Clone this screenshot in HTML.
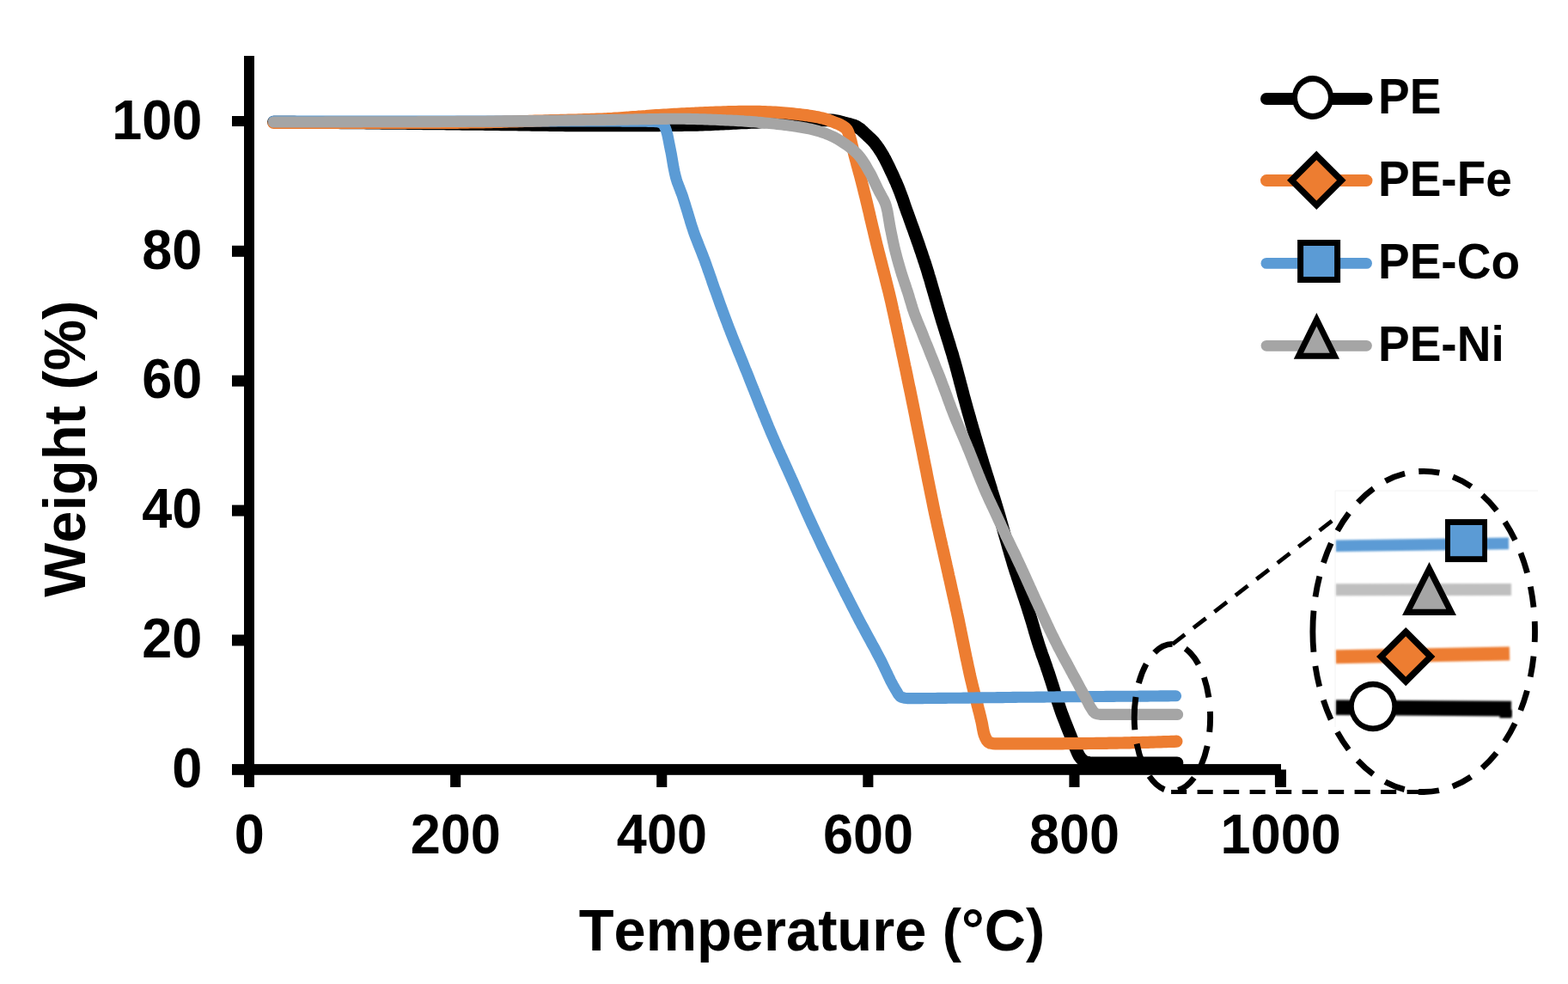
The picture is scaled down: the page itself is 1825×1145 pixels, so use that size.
<!DOCTYPE html>
<html lang="en">
<head>
<meta charset="utf-8">
<title>TGA curves: PE, PE-Fe, PE-Co, PE-Ni</title>
<style>
html,body{margin:0;padding:0;background:#fff;}
body{width:1825px;height:1145px;overflow:hidden;font-family:"Liberation Sans", "DejaVu Sans", sans-serif;}
svg{display:block;position:absolute;left:0;top:0;}
</style>
</head>
<body>
<svg width="1825" height="1145" viewBox="0 0 1825 1145" role="img" aria-label="TGA weight versus temperature for PE, PE-Fe, PE-Co and PE-Ni">
<rect x="0" y="0" width="1825" height="1145" fill="#ffffff"/>
<g fill="none" stroke-linecap="round" stroke-linejoin="round">
<path d="M318.5,142.0 L321.5,142.0 L324.5,142.1 L327.5,142.1 L330.5,142.1 L333.5,142.1 L336.5,142.2 L339.5,142.2 L342.5,142.2 L345.6,142.3 L348.6,142.3 L351.6,142.3 L354.6,142.3 L357.6,142.4 L360.6,142.4 L363.6,142.4 L366.6,142.5 L369.6,142.5 L372.6,142.5 L375.6,142.6 L378.6,142.6 L381.6,142.6 L384.6,142.6 L387.6,142.7 L390.6,142.7 L393.6,142.7 L396.7,142.8 L399.7,142.8 L402.7,142.8 L405.7,142.9 L408.7,142.9 L411.7,142.9 L414.7,142.9 L417.7,143.0 L420.7,143.0 L423.7,143.0 L426.7,143.1 L429.7,143.1 L432.7,143.1 L435.7,143.2 L438.7,143.2 L441.7,143.2 L444.7,143.3 L447.8,143.3 L450.8,143.3 L453.8,143.4 L456.8,143.4 L459.8,143.4 L462.8,143.4 L465.8,143.5 L468.8,143.5 L471.8,143.5 L474.8,143.6 L477.8,143.6 L480.8,143.6 L483.8,143.7 L486.8,143.7 L489.8,143.7 L492.8,143.8 L495.8,143.8 L498.9,143.8 L501.9,143.9 L504.9,143.9 L507.9,143.9 L510.9,144.0 L513.9,144.0 L516.9,144.0 L519.9,144.1 L522.9,144.1 L525.9,144.1 L528.9,144.2 L531.9,144.2 L534.9,144.2 L537.9,144.3 L540.9,144.3 L543.9,144.3 L547.0,144.4 L550.0,144.4 L553.0,144.4 L556.0,144.5 L559.0,144.5 L562.0,144.5 L565.0,144.6 L568.0,144.6 L571.0,144.6 L574.0,144.7 L577.0,144.7 L580.0,144.7 L583.0,144.8 L586.0,144.8 L589.0,144.9 L592.0,144.9 L595.0,144.9 L598.1,145.0 L601.1,145.0 L604.1,145.1 L607.1,145.1 L610.1,145.2 L613.1,145.2 L616.1,145.2 L619.1,145.3 L622.1,145.3 L625.1,145.4 L628.1,145.4 L631.1,145.5 L634.1,145.5 L637.1,145.5 L640.1,145.6 L643.1,145.6 L646.1,145.6 L649.2,145.7 L652.2,145.7 L655.2,145.7 L658.2,145.8 L661.2,145.8 L664.2,145.8 L667.2,145.9 L670.2,145.9 L673.2,145.9 L676.2,145.9 L679.2,145.9 L682.2,146.0 L685.2,146.0 L688.2,146.0 L691.2,146.0 L694.2,146.0 L697.2,146.0 L700.3,146.0 L703.3,146.0 L706.3,146.0 L709.3,146.0 L712.3,146.0 L715.3,146.0 L718.3,146.0 L721.3,146.0 L724.3,146.0 L727.3,146.0 L730.3,145.9 L733.3,145.9 L736.3,145.9 L739.3,145.9 L742.3,145.9 L745.3,145.9 L748.4,145.9 L751.4,145.9 L754.4,145.8 L757.4,145.8 L760.4,145.8 L763.4,145.8 L766.4,145.8 L769.4,145.7 L772.4,145.7 L775.4,145.7 L778.4,145.7 L781.4,145.7 L784.4,145.6 L787.4,145.6 L790.4,145.6 L793.4,145.6 L796.4,145.5 L799.5,145.5 L802.5,145.5 L805.5,145.4 L808.5,145.4 L811.5,145.3 L814.5,145.2 L817.5,145.1 L820.5,145.0 L823.5,144.9 L826.5,144.8 L829.5,144.6 L832.5,144.5 L835.5,144.4 L838.5,144.2 L841.5,144.1 L844.5,143.9 L847.5,143.8 L850.5,143.6 L853.5,143.5 L856.5,143.3 L859.5,143.2 L862.5,143.0 L865.5,142.9 L868.5,142.8 L871.5,142.6 L874.5,142.5 L877.5,142.4 L880.6,142.3 L883.6,142.1 L886.6,142.0 L889.6,141.9 L892.6,141.7 L895.6,141.6 L898.6,141.4 L901.6,141.3 L904.6,141.2 L907.6,141.0 L910.6,140.9 L913.6,140.8 L916.6,140.6 L919.6,140.5 L922.6,140.4 L925.6,140.3 L928.6,140.2 L931.6,140.2 L934.6,140.1 L937.6,140.0 L940.6,140.0 L943.6,140.0 L946.7,139.9 L949.7,139.9 L952.7,139.9 L955.7,139.8 L958.7,139.8 L961.7,139.8 L964.7,139.8 L967.7,139.8 L970.6,140.1 L973.6,140.7 L976.6,141.3 L979.5,142.1 L982.4,142.9 L985.4,143.6 L988.3,144.3 L991.2,145.2 L994.0,146.1 L996.8,147.3 L999.4,148.9 L1001.8,150.6 L1004.0,152.6 L1006.2,154.7 L1008.4,156.8 L1010.6,158.9 L1012.8,160.9 L1015.0,163.0 L1017.0,165.1 L1018.9,167.5 L1020.7,169.9 L1022.5,172.3 L1024.1,174.9 L1025.7,177.4 L1027.3,180.0 L1028.7,182.6 L1030.2,185.2 L1031.5,187.9 L1032.9,190.6 L1034.2,193.3 L1035.5,196.0 L1036.8,198.8 L1038.1,201.5 L1039.4,204.2 L1040.6,206.9 L1041.8,209.7 L1043.1,212.4 L1044.2,215.2 L1045.4,218.0 L1046.5,220.8 L1047.6,223.6 L1048.6,226.4 L1049.7,229.2 L1050.7,232.0 L1051.7,234.9 L1052.6,237.7 L1053.6,240.6 L1054.6,243.4 L1055.6,246.2 L1056.7,249.1 L1057.7,251.9 L1058.7,254.7 L1059.7,257.5 L1060.7,260.4 L1061.7,263.2 L1062.8,266.0 L1063.8,268.9 L1064.8,271.7 L1065.8,274.5 L1066.8,277.4 L1067.8,280.2 L1068.8,283.0 L1069.8,285.9 L1070.7,288.7 L1071.7,291.6 L1072.7,294.4 L1073.6,297.3 L1074.6,300.1 L1075.5,303.0 L1076.5,305.8 L1077.4,308.7 L1078.3,311.5 L1079.2,314.4 L1080.1,317.3 L1080.9,320.2 L1081.8,323.0 L1082.7,325.9 L1083.5,328.8 L1084.3,331.7 L1085.2,334.6 L1086.0,337.5 L1086.9,340.4 L1087.7,343.2 L1088.5,346.1 L1089.4,349.0 L1090.2,351.9 L1091.0,354.8 L1091.9,357.7 L1092.7,360.6 L1093.6,363.5 L1094.4,366.3 L1095.3,369.2 L1096.1,372.1 L1097.0,375.0 L1097.9,377.8 L1098.8,380.7 L1099.7,383.6 L1100.6,386.5 L1101.5,389.3 L1102.4,392.2 L1103.3,395.1 L1104.2,397.9 L1105.1,400.8 L1105.9,403.7 L1106.8,406.6 L1107.7,409.4 L1108.6,412.3 L1109.4,415.2 L1110.2,418.1 L1111.1,421.0 L1111.9,423.9 L1112.7,426.8 L1113.5,429.7 L1114.3,432.6 L1115.0,435.5 L1115.8,438.4 L1116.6,441.3 L1117.3,444.2 L1118.1,447.1 L1118.9,450.0 L1119.6,452.9 L1120.4,455.8 L1121.1,458.7 L1121.9,461.6 L1122.7,464.5 L1123.5,467.4 L1124.3,470.3 L1125.1,473.2 L1125.9,476.1 L1126.7,479.0 L1127.5,481.9 L1128.4,484.8 L1129.2,487.7 L1130.0,490.6 L1130.8,493.5 L1131.7,496.4 L1132.5,499.3 L1133.4,502.1 L1134.2,505.0 L1135.0,507.9 L1135.9,510.8 L1136.7,513.7 L1137.6,516.6 L1138.4,519.4 L1139.3,522.3 L1140.2,525.2 L1141.0,528.1 L1141.9,531.0 L1142.8,533.8 L1143.6,536.7 L1144.5,539.6 L1145.4,542.5 L1146.3,545.3 L1147.2,548.2 L1148.1,551.1 L1149.0,553.9 L1149.9,556.8 L1150.8,559.7 L1151.7,562.5 L1152.6,565.4 L1153.5,568.3 L1154.3,571.2 L1155.2,574.0 L1156.1,576.9 L1157.0,579.8 L1157.9,582.7 L1158.8,585.5 L1159.6,588.4 L1160.5,591.3 L1161.4,594.2 L1162.2,597.0 L1163.1,599.9 L1163.9,602.8 L1164.7,605.7 L1165.6,608.6 L1166.4,611.5 L1167.2,614.4 L1168.0,617.3 L1168.8,620.2 L1169.6,623.1 L1170.5,626.0 L1171.3,628.9 L1172.1,631.7 L1172.9,634.6 L1173.7,637.5 L1174.6,640.4 L1175.4,643.3 L1176.3,646.2 L1177.1,649.1 L1178.0,651.9 L1178.8,654.8 L1179.7,657.7 L1180.6,660.6 L1181.5,663.4 L1182.4,666.3 L1183.4,669.1 L1184.3,672.0 L1185.3,674.9 L1186.2,677.7 L1187.2,680.6 L1188.1,683.4 L1189.1,686.3 L1190.0,689.1 L1191.0,692.0 L1191.9,694.8 L1192.9,697.7 L1193.8,700.5 L1194.8,703.4 L1195.7,706.2 L1196.6,709.1 L1197.5,712.0 L1198.4,714.8 L1199.3,717.7 L1200.2,720.6 L1201.1,723.5 L1201.9,726.3 L1202.8,729.2 L1203.6,732.1 L1204.4,735.0 L1205.3,737.9 L1206.1,740.8 L1207.0,743.6 L1207.9,746.5 L1208.8,749.4 L1209.7,752.2 L1210.7,755.1 L1211.7,757.9 L1212.6,760.8 L1213.6,763.6 L1214.7,766.4 L1215.7,769.3 L1216.7,772.1 L1217.7,774.9 L1218.6,777.8 L1219.6,780.6 L1220.6,783.5 L1221.5,786.3 L1222.4,789.2 L1223.4,792.1 L1224.3,794.9 L1225.2,797.8 L1226.1,800.7 L1227.0,803.5 L1227.9,806.4 L1228.8,809.3 L1229.7,812.1 L1230.7,815.0 L1231.6,817.8 L1232.6,820.7 L1233.5,823.5 L1234.5,826.4 L1235.5,829.2 L1236.5,832.0 L1237.6,834.8 L1238.7,837.6 L1239.8,840.4 L1240.9,843.2 L1242.0,846.0 L1243.1,848.8 L1244.2,851.6 L1245.4,854.4 L1246.5,857.2 L1247.5,860.0 L1248.6,862.8 L1249.7,865.6 L1250.9,868.4 L1252.1,871.1 L1253.3,873.9 L1254.5,876.7 L1255.9,879.4 L1257.6,881.8 L1259.7,884.2 L1262.1,886.1 L1264.7,886.9 L1267.7,887.5 L1270.8,887.8 L1273.8,887.8 L1276.8,887.8 L1279.8,887.8 L1282.8,887.8 L1285.7,887.8 L1288.7,887.8 L1291.7,887.8 L1294.7,887.8 L1297.7,887.8 L1300.7,887.8 L1303.7,887.8 L1306.7,887.8 L1309.7,887.8 L1312.7,887.8 L1315.7,887.8 L1318.7,887.8 L1321.7,887.8 L1324.7,887.8 L1327.7,887.8 L1330.7,887.8 L1333.7,887.8 L1336.7,887.8 L1339.8,887.8 L1342.8,887.8 L1345.8,887.8 L1348.8,887.8 L1351.8,887.8 L1354.9,887.8 L1357.9,887.8 L1360.9,887.8 L1363.9,887.8 L1367.0,887.8 L1370.0,887.8" stroke="#000000" stroke-width="14.7"/>
<path d="M318.5,143.0 L321.5,143.0 L324.5,143.0 L327.5,143.0 L330.5,143.0 L333.6,143.0 L336.6,143.0 L339.6,143.0 L342.6,143.0 L345.6,143.0 L348.6,143.0 L351.6,143.0 L354.6,143.0 L357.6,143.0 L360.6,143.0 L363.7,143.0 L366.7,143.0 L369.7,143.0 L372.7,143.0 L375.7,143.0 L378.7,143.0 L381.7,143.0 L384.7,143.0 L387.7,143.0 L390.8,143.0 L393.8,143.0 L396.8,143.0 L399.8,143.0 L402.8,143.0 L405.8,143.0 L408.8,143.0 L411.8,143.0 L414.8,143.0 L417.8,143.0 L420.9,143.0 L423.9,143.0 L426.9,143.0 L429.9,143.0 L432.9,143.0 L435.9,143.0 L438.9,143.0 L441.9,143.0 L444.9,143.0 L447.9,143.0 L451.0,143.0 L454.0,143.0 L457.0,143.0 L460.0,143.0 L463.0,143.0 L466.0,143.0 L469.0,143.0 L472.0,143.0 L475.0,143.0 L478.0,143.0 L481.1,143.0 L484.1,143.0 L487.1,143.0 L490.1,143.0 L493.1,143.0 L496.1,143.0 L499.1,143.0 L502.1,143.0 L505.1,143.0 L508.1,143.0 L511.2,143.0 L514.2,143.0 L517.2,142.9 L520.2,142.9 L523.2,142.9 L526.2,142.9 L529.2,142.8 L532.2,142.8 L535.2,142.7 L538.2,142.7 L541.3,142.6 L544.3,142.6 L547.3,142.5 L550.3,142.5 L553.3,142.4 L556.3,142.4 L559.3,142.3 L562.3,142.3 L565.3,142.2 L568.3,142.1 L571.4,142.1 L574.4,142.0 L577.4,141.9 L580.4,141.8 L583.4,141.8 L586.4,141.7 L589.4,141.6 L592.4,141.5 L595.4,141.5 L598.4,141.4 L601.4,141.3 L604.5,141.2 L607.5,141.1 L610.5,141.0 L613.5,141.0 L616.5,140.9 L619.5,140.8 L622.5,140.7 L625.5,140.6 L628.5,140.6 L631.5,140.5 L634.6,140.4 L637.6,140.3 L640.6,140.2 L643.6,140.2 L646.6,140.1 L649.6,140.0 L652.6,139.9 L655.6,139.9 L658.6,139.8 L661.6,139.7 L664.6,139.6 L667.7,139.6 L670.7,139.5 L673.7,139.4 L676.7,139.3 L679.7,139.2 L682.7,139.1 L685.7,139.0 L688.7,138.9 L691.7,138.8 L694.7,138.7 L697.7,138.6 L700.8,138.5 L703.8,138.3 L706.8,138.2 L709.8,138.0 L712.8,137.9 L715.8,137.7 L718.8,137.5 L721.8,137.3 L724.8,137.1 L727.8,136.9 L730.8,136.7 L733.8,136.4 L736.8,136.2 L739.8,136.0 L742.8,135.7 L745.8,135.5 L748.8,135.3 L751.8,135.1 L754.8,134.8 L757.8,134.6 L760.8,134.4 L763.8,134.2 L766.8,134.0 L769.8,133.8 L772.8,133.6 L775.8,133.5 L778.8,133.3 L781.9,133.1 L784.9,132.9 L787.9,132.8 L790.9,132.6 L793.9,132.4 L796.9,132.3 L799.9,132.1 L802.9,132.0 L805.9,131.8 L808.9,131.7 L811.9,131.5 L814.9,131.4 L817.9,131.3 L820.9,131.1 L823.9,131.0 L827.0,130.9 L830.0,130.8 L833.0,130.7 L836.0,130.6 L839.0,130.5 L842.0,130.4 L845.0,130.3 L848.0,130.2 L851.0,130.1 L854.0,130.1 L857.0,130.0 L860.1,129.9 L863.1,129.9 L866.1,129.8 L869.1,129.8 L872.1,129.8 L875.1,129.8 L878.1,129.8 L881.1,129.8 L884.1,129.9 L887.1,130.0 L890.2,130.1 L893.2,130.3 L896.2,130.4 L899.2,130.6 L902.2,130.7 L905.2,130.9 L908.2,131.1 L911.2,131.3 L914.2,131.5 L917.2,131.8 L920.2,132.1 L923.2,132.4 L926.2,132.7 L929.2,133.0 L932.2,133.4 L935.2,133.7 L938.2,134.1 L941.2,134.6 L944.2,135.0 L947.1,135.5 L950.1,136.1 L953.0,136.6 L956.0,137.3 L958.9,137.9 L961.7,138.8 L964.6,139.8 L967.4,140.9 L970.2,142.0 L973.0,143.1 L975.9,144.2 L978.6,145.5 L981.2,146.9 L983.7,148.7 L985.7,150.8 L987.1,153.5 L988.1,156.4 L989.1,159.2 L989.9,162.1 L990.7,165.0 L991.4,168.0 L992.1,170.9 L992.8,173.8 L993.6,176.7 L994.3,179.7 L995.1,182.6 L995.9,185.5 L996.7,188.4 L997.4,191.3 L998.2,194.2 L999.0,197.1 L999.8,200.0 L1000.6,202.9 L1001.4,205.8 L1002.1,208.7 L1002.9,211.6 L1003.6,214.5 L1004.4,217.5 L1005.1,220.4 L1005.8,223.3 L1006.5,226.2 L1007.3,229.2 L1008.0,232.1 L1008.7,235.0 L1009.4,237.9 L1010.1,240.9 L1010.8,243.8 L1011.5,246.7 L1012.2,249.7 L1012.8,252.6 L1013.5,255.5 L1014.2,258.4 L1014.9,261.4 L1015.6,264.3 L1016.3,267.2 L1017.0,270.2 L1017.7,273.1 L1018.4,276.0 L1019.1,279.0 L1019.8,281.9 L1020.5,284.8 L1021.2,287.7 L1022.0,290.6 L1022.7,293.6 L1023.5,296.5 L1024.2,299.4 L1025.0,302.3 L1025.7,305.2 L1026.5,308.1 L1027.2,311.1 L1028.0,314.0 L1028.7,316.9 L1029.5,319.8 L1030.2,322.7 L1030.9,325.6 L1031.7,328.6 L1032.4,331.5 L1033.1,334.4 L1033.9,337.3 L1034.6,340.2 L1035.3,343.2 L1036.0,346.1 L1036.7,349.0 L1037.4,352.0 L1038.0,354.9 L1038.7,357.8 L1039.3,360.8 L1040.0,363.7 L1040.6,366.6 L1041.3,369.6 L1041.9,372.5 L1042.5,375.5 L1043.2,378.4 L1043.8,381.4 L1044.4,384.3 L1045.1,387.2 L1045.7,390.2 L1046.4,393.1 L1047.0,396.1 L1047.6,399.0 L1048.2,402.0 L1048.9,404.9 L1049.5,407.8 L1050.1,410.8 L1050.7,413.7 L1051.4,416.7 L1052.0,419.6 L1052.6,422.6 L1053.2,425.5 L1053.9,428.5 L1054.5,431.4 L1055.1,434.4 L1055.7,437.3 L1056.3,440.3 L1056.9,443.2 L1057.5,446.1 L1058.1,449.1 L1058.8,452.0 L1059.4,455.0 L1060.0,457.9 L1060.6,460.9 L1061.2,463.8 L1061.8,466.8 L1062.4,469.7 L1063.0,472.7 L1063.6,475.6 L1064.2,478.6 L1064.8,481.5 L1065.4,484.5 L1065.9,487.4 L1066.5,490.4 L1067.1,493.3 L1067.7,496.3 L1068.3,499.2 L1068.9,502.2 L1069.5,505.2 L1070.1,508.1 L1070.7,511.1 L1071.3,514.0 L1071.9,517.0 L1072.5,519.9 L1073.1,522.9 L1073.7,525.8 L1074.3,528.8 L1074.8,531.7 L1075.4,534.7 L1076.0,537.6 L1076.6,540.6 L1077.2,543.5 L1077.8,546.5 L1078.4,549.4 L1078.9,552.4 L1079.5,555.3 L1080.1,558.3 L1080.7,561.2 L1081.3,564.2 L1081.9,567.1 L1082.5,570.1 L1083.1,573.0 L1083.7,576.0 L1084.3,578.9 L1084.9,581.9 L1085.5,584.8 L1086.1,587.8 L1086.7,590.7 L1087.3,593.7 L1087.9,596.6 L1088.6,599.6 L1089.2,602.5 L1089.9,605.5 L1090.5,608.4 L1091.1,611.3 L1091.8,614.3 L1092.5,617.2 L1093.1,620.1 L1093.8,623.1 L1094.4,626.0 L1095.1,629.0 L1095.8,631.9 L1096.4,634.8 L1097.1,637.8 L1097.8,640.7 L1098.4,643.6 L1099.1,646.6 L1099.7,649.5 L1100.4,652.4 L1101.1,655.4 L1101.7,658.3 L1102.4,661.3 L1103.0,664.2 L1103.7,667.1 L1104.3,670.1 L1105.0,673.0 L1105.7,676.0 L1106.3,678.9 L1107.0,681.8 L1107.6,684.8 L1108.3,687.7 L1108.9,690.6 L1109.6,693.6 L1110.3,696.5 L1110.9,699.5 L1111.6,702.4 L1112.2,705.3 L1112.8,708.3 L1113.5,711.2 L1114.1,714.2 L1114.8,717.1 L1115.4,720.0 L1116.0,723.0 L1116.6,725.9 L1117.2,728.9 L1117.8,731.8 L1118.4,734.8 L1119.0,737.7 L1119.6,740.7 L1120.2,743.6 L1120.8,746.6 L1121.4,749.5 L1122.0,752.5 L1122.6,755.4 L1123.2,758.4 L1123.8,761.3 L1124.4,764.3 L1125.0,767.2 L1125.7,770.2 L1126.3,773.1 L1126.9,776.1 L1127.6,779.0 L1128.2,782.0 L1128.8,784.9 L1129.5,787.8 L1130.2,790.8 L1130.9,793.7 L1131.6,796.6 L1132.3,799.5 L1133.0,802.5 L1133.8,805.4 L1134.5,808.3 L1135.3,811.2 L1136.0,814.1 L1136.8,817.0 L1137.5,820.0 L1138.3,822.9 L1139.0,825.8 L1139.8,828.7 L1140.5,831.6 L1141.2,834.5 L1141.9,837.5 L1142.6,840.4 L1143.2,843.4 L1143.7,846.4 L1144.3,849.4 L1144.9,852.4 L1145.7,855.2 L1146.8,858.0 L1148.4,861.1 L1150.4,863.5 L1152.6,864.6 L1155.4,865.1 L1158.7,865.4 L1161.7,865.4 L1164.7,865.4 L1167.7,865.4 L1170.7,865.4 L1173.7,865.4 L1176.7,865.4 L1179.7,865.4 L1182.7,865.4 L1185.7,865.4 L1188.7,865.4 L1191.7,865.4 L1194.7,865.4 L1197.7,865.4 L1200.7,865.4 L1203.7,865.4 L1206.7,865.4 L1209.7,865.4 L1212.7,865.4 L1215.7,865.3 L1218.7,865.3 L1221.7,865.3 L1224.7,865.3 L1227.7,865.3 L1230.7,865.3 L1233.7,865.3 L1236.7,865.3 L1239.7,865.2 L1242.7,865.2 L1245.7,865.2 L1248.8,865.2 L1251.8,865.2 L1254.8,865.1 L1257.8,865.1 L1260.8,865.1 L1263.8,865.1 L1266.8,865.0 L1269.8,865.0 L1272.8,865.0 L1275.8,864.9 L1278.8,864.9 L1281.8,864.9 L1284.9,864.8 L1287.9,864.8 L1290.9,864.7 L1293.9,864.7 L1296.9,864.6 L1299.9,864.6 L1302.9,864.5 L1306.0,864.5 L1309.0,864.4 L1312.0,864.4 L1315.0,864.3 L1318.0,864.2 L1321.0,864.2 L1324.1,864.1 L1327.1,864.0 L1330.1,863.9 L1333.1,863.9 L1336.1,863.8 L1339.2,863.7 L1342.2,863.6 L1345.2,863.5 L1348.2,863.4 L1351.2,863.3 L1354.3,863.2 L1357.3,863.1 L1360.3,863.0 L1363.3,862.9 L1366.4,862.8 L1369.4,862.7" stroke="#ED7D31" stroke-width="14.2"/>
<path d="M318.5,141.0 L321.5,141.0 L324.5,141.0 L327.5,141.0 L330.5,141.0 L333.5,141.0 L336.5,141.0 L339.6,141.0 L342.6,141.0 L345.6,141.0 L348.6,141.0 L351.6,141.0 L354.6,141.0 L357.6,141.0 L360.6,141.0 L363.6,141.0 L366.6,141.0 L369.6,141.0 L372.6,141.0 L375.7,141.0 L378.7,141.0 L381.7,141.0 L384.7,141.0 L387.7,141.0 L390.7,141.0 L393.7,141.0 L396.7,141.0 L399.7,141.0 L402.7,141.0 L405.7,141.0 L408.7,141.0 L411.8,141.0 L414.8,141.0 L417.8,141.0 L420.8,141.0 L423.8,141.0 L426.8,141.0 L429.8,141.0 L432.8,141.0 L435.8,141.0 L438.8,141.0 L441.8,141.0 L444.8,141.0 L447.9,141.0 L450.9,141.0 L453.9,141.0 L456.9,141.0 L459.9,141.0 L462.9,141.0 L465.9,141.0 L468.9,141.0 L471.9,141.0 L474.9,141.0 L477.9,141.0 L480.9,141.0 L484.0,141.0 L487.0,141.0 L490.0,141.0 L493.0,141.0 L496.0,141.0 L499.0,141.0 L502.0,141.0 L505.0,141.0 L508.0,141.0 L511.0,141.0 L514.0,141.0 L517.0,141.0 L520.1,141.0 L523.1,141.0 L526.1,141.0 L529.1,141.0 L532.1,141.0 L535.1,141.0 L538.1,141.0 L541.1,141.0 L544.1,141.0 L547.1,141.0 L550.1,141.0 L553.1,141.0 L556.2,141.0 L559.2,141.0 L562.2,141.0 L565.2,141.0 L568.2,141.0 L571.2,141.0 L574.2,141.0 L577.2,141.0 L580.2,141.0 L583.2,141.0 L586.2,141.0 L589.3,141.0 L592.3,141.0 L595.3,141.0 L598.3,141.0 L601.3,141.0 L604.3,141.0 L607.3,141.0 L610.3,141.0 L613.3,141.0 L616.3,141.0 L619.3,141.0 L622.3,141.0 L625.4,141.0 L628.4,141.0 L631.4,141.0 L634.4,141.0 L637.4,141.0 L640.4,141.0 L643.4,141.0 L646.4,141.0 L649.4,141.0 L652.4,141.0 L655.4,141.0 L658.4,141.0 L661.5,141.0 L664.5,141.0 L667.5,141.0 L670.5,141.0 L673.5,141.0 L676.5,141.0 L679.5,141.0 L682.5,141.0 L685.5,141.0 L688.5,141.0 L691.5,141.0 L694.5,141.0 L697.5,141.0 L700.6,141.0 L703.6,141.0 L706.6,141.0 L709.6,141.0 L712.6,141.0 L715.6,141.0 L718.6,141.0 L721.7,141.0 L724.7,141.1 L727.7,141.1 L730.7,141.1 L733.7,141.1 L736.8,141.1 L739.8,141.2 L742.8,141.2 L745.8,141.2 L748.8,141.3 L751.8,141.3 L754.8,141.4 L757.8,141.4 L760.7,141.5 L763.8,141.6 L766.9,142.1 L769.7,142.9 L771.9,144.6 L773.6,147.3 L774.7,149.9 L775.7,152.7 L776.5,155.5 L777.2,158.5 L777.8,161.5 L778.4,164.6 L779.0,167.6 L779.6,170.6 L780.2,173.6 L780.8,176.5 L781.4,179.5 L781.9,182.5 L782.4,185.4 L782.9,188.4 L783.4,191.4 L783.9,194.3 L784.5,197.3 L785.1,200.2 L785.8,203.2 L786.5,206.1 L787.3,208.9 L788.2,211.8 L789.3,214.6 L790.3,217.4 L791.4,220.2 L792.5,223.1 L793.6,225.9 L794.6,228.7 L795.5,231.6 L796.4,234.4 L797.3,237.3 L798.2,240.2 L799.1,243.1 L800.0,246.0 L800.8,248.8 L801.7,251.7 L802.6,254.6 L803.4,257.5 L804.3,260.4 L805.2,263.2 L806.2,266.1 L807.1,268.9 L808.1,271.8 L809.1,274.6 L810.2,277.4 L811.3,280.2 L812.4,283.0 L813.5,285.8 L814.6,288.6 L815.7,291.4 L816.8,294.2 L817.9,297.0 L819.0,299.8 L820.1,302.6 L821.1,305.5 L822.1,308.3 L823.1,311.1 L824.1,314.0 L825.1,316.8 L826.1,319.7 L827.1,322.5 L828.1,325.3 L829.0,328.2 L830.0,331.0 L831.0,333.9 L832.0,336.7 L833.1,339.5 L834.1,342.4 L835.1,345.2 L836.1,348.0 L837.1,350.9 L838.1,353.7 L839.1,356.5 L840.2,359.3 L841.2,362.2 L842.2,365.0 L843.3,367.8 L844.3,370.6 L845.4,373.4 L846.5,376.3 L847.5,379.1 L848.6,381.9 L849.7,384.7 L850.8,387.5 L851.9,390.3 L853.0,393.1 L854.1,395.9 L855.2,398.7 L856.4,401.5 L857.5,404.2 L858.6,407.0 L859.7,409.8 L860.9,412.6 L862.0,415.4 L863.1,418.2 L864.3,421.0 L865.4,423.8 L866.5,426.6 L867.6,429.4 L868.8,432.1 L869.9,434.9 L871.0,437.7 L872.1,440.5 L873.2,443.3 L874.3,446.1 L875.4,448.9 L876.5,451.7 L877.7,454.5 L878.8,457.3 L879.9,460.1 L881.0,462.9 L882.1,465.7 L883.2,468.5 L884.3,471.3 L885.4,474.1 L886.6,476.9 L887.7,479.7 L888.8,482.5 L890.0,485.2 L891.1,488.0 L892.2,490.8 L893.4,493.6 L894.5,496.4 L895.7,499.1 L896.8,501.9 L898.0,504.7 L899.2,507.5 L900.4,510.2 L901.6,513.0 L902.8,515.7 L904.0,518.5 L905.2,521.2 L906.4,524.0 L907.7,526.7 L908.9,529.5 L910.2,532.2 L911.4,534.9 L912.6,537.7 L913.9,540.4 L915.1,543.2 L916.4,545.9 L917.6,548.6 L918.9,551.4 L920.1,554.1 L921.3,556.9 L922.6,559.6 L923.8,562.4 L925.0,565.1 L926.2,567.9 L927.4,570.6 L928.6,573.4 L929.9,576.1 L931.1,578.9 L932.3,581.6 L933.5,584.4 L934.7,587.1 L935.9,589.9 L937.1,592.6 L938.4,595.4 L939.6,598.1 L940.9,600.9 L942.1,603.6 L943.4,606.3 L944.6,609.1 L945.9,611.8 L947.2,614.5 L948.4,617.3 L949.7,620.0 L951.0,622.7 L952.3,625.4 L953.6,628.1 L954.9,630.9 L956.1,633.6 L957.4,636.3 L958.7,639.0 L960.1,641.7 L961.4,644.4 L962.7,647.1 L964.0,649.8 L965.3,652.5 L966.6,655.2 L968.0,657.9 L969.3,660.6 L970.6,663.3 L971.9,666.0 L973.3,668.7 L974.6,671.4 L975.9,674.1 L977.3,676.8 L978.6,679.5 L980.0,682.2 L981.3,684.9 L982.7,687.6 L984.0,690.3 L985.4,692.9 L986.7,695.6 L988.1,698.3 L989.5,701.0 L990.8,703.7 L992.2,706.3 L993.6,709.0 L995.0,711.7 L996.3,714.4 L997.7,717.0 L999.1,719.7 L1000.5,722.4 L1001.9,725.0 L1003.3,727.7 L1004.8,730.3 L1006.2,733.0 L1007.6,735.6 L1009.0,738.3 L1010.5,740.9 L1011.9,743.6 L1013.4,746.2 L1014.8,748.9 L1016.2,751.5 L1017.7,754.1 L1019.1,756.8 L1020.5,759.5 L1021.9,762.1 L1023.3,764.8 L1024.7,767.4 L1026.1,770.1 L1027.4,772.8 L1028.7,775.5 L1030.0,778.3 L1031.3,781.0 L1032.6,783.7 L1033.9,786.5 L1035.2,789.2 L1036.5,791.9 L1037.9,794.6 L1039.3,797.2 L1040.8,799.8 L1042.3,802.4 L1043.9,805.0 L1045.5,807.9 L1047.4,810.2 L1049.6,811.4 L1052.6,812.2 L1055.7,812.6 L1058.7,812.6 L1061.7,812.6 L1064.7,812.6 L1067.6,812.6 L1070.6,812.6 L1073.6,812.6 L1076.6,812.5 L1079.6,812.5 L1082.6,812.5 L1085.6,812.5 L1088.6,812.5 L1091.6,812.4 L1094.6,812.4 L1097.6,812.4 L1100.6,812.4 L1103.6,812.3 L1106.6,812.3 L1109.6,812.3 L1112.6,812.2 L1115.6,812.2 L1118.6,812.2 L1121.6,812.1 L1124.7,812.1 L1127.7,812.1 L1130.7,812.0 L1133.7,812.0 L1136.7,811.9 L1139.8,811.9 L1142.8,811.9 L1145.8,811.8 L1148.8,811.8 L1151.9,811.8 L1154.9,811.7 L1157.9,811.7 L1160.9,811.6 L1163.9,811.6 L1167.0,811.6 L1170.0,811.5 L1173.0,811.5 L1176.0,811.5 L1179.0,811.4 L1182.1,811.4 L1185.1,811.3 L1188.1,811.3 L1191.1,811.3 L1194.1,811.3 L1197.1,811.2 L1200.1,811.2 L1203.1,811.2 L1206.2,811.1 L1209.2,811.1 L1212.2,811.1 L1215.2,811.1 L1218.2,811.0 L1221.2,811.0 L1224.2,811.0 L1227.2,811.0 L1230.2,810.9 L1233.2,810.9 L1236.2,810.9 L1239.2,810.9 L1242.3,810.8 L1245.3,810.8 L1248.3,810.8 L1251.3,810.7 L1254.3,810.7 L1257.3,810.7 L1260.3,810.7 L1263.3,810.6 L1266.3,810.6 L1269.3,810.6 L1272.3,810.6 L1275.3,810.5 L1278.4,810.5 L1281.4,810.5 L1284.4,810.5 L1287.4,810.4 L1290.4,810.4 L1293.4,810.4 L1296.4,810.4 L1299.4,810.3 L1302.4,810.3 L1305.4,810.3 L1308.4,810.3 L1311.4,810.2 L1314.5,810.2 L1317.5,810.2 L1320.5,810.2 L1323.5,810.2 L1326.5,810.1 L1329.5,810.1 L1332.5,810.1 L1335.5,810.1 L1338.5,810.0 L1341.5,810.0 L1344.5,810.0 L1347.5,810.0 L1350.6,809.9 L1353.6,809.9 L1356.6,809.9 L1359.6,809.9 L1362.6,809.8 L1365.6,809.8 L1368.6,809.8" stroke="#5B9BD5" stroke-width="13.1"/>
<path d="M318.5,142.0 L321.5,142.0 L324.5,142.0 L327.5,142.0 L330.5,142.0 L333.5,142.0 L336.5,142.0 L339.5,142.0 L342.6,142.0 L345.6,142.0 L348.6,142.0 L351.6,142.0 L354.6,142.0 L357.6,142.0 L360.6,142.0 L363.6,142.0 L366.6,142.0 L369.6,142.0 L372.6,142.0 L375.6,142.0 L378.6,141.9 L381.6,141.9 L384.6,141.9 L387.6,141.9 L390.7,141.9 L393.7,141.9 L396.7,141.9 L399.7,141.9 L402.7,141.9 L405.7,141.9 L408.7,141.9 L411.7,141.9 L414.7,141.9 L417.7,141.9 L420.7,141.9 L423.7,141.8 L426.7,141.8 L429.7,141.8 L432.7,141.8 L435.8,141.8 L438.8,141.8 L441.8,141.8 L444.8,141.8 L447.8,141.8 L450.8,141.8 L453.8,141.8 L456.8,141.7 L459.8,141.7 L462.8,141.7 L465.8,141.7 L468.8,141.7 L471.8,141.7 L474.8,141.7 L477.8,141.7 L480.8,141.7 L483.9,141.7 L486.9,141.6 L489.9,141.6 L492.9,141.6 L495.9,141.6 L498.9,141.6 L501.9,141.6 L504.9,141.6 L507.9,141.6 L510.9,141.6 L513.9,141.5 L516.9,141.5 L519.9,141.5 L522.9,141.5 L525.9,141.5 L529.0,141.5 L532.0,141.4 L535.0,141.4 L538.0,141.4 L541.0,141.4 L544.0,141.3 L547.0,141.3 L550.0,141.3 L553.0,141.3 L556.0,141.3 L559.0,141.2 L562.0,141.2 L565.0,141.2 L568.0,141.1 L571.0,141.1 L574.0,141.1 L577.1,141.1 L580.1,141.0 L583.1,141.0 L586.1,141.0 L589.1,140.9 L592.1,140.9 L595.1,140.9 L598.1,140.8 L601.1,140.8 L604.1,140.8 L607.1,140.7 L610.1,140.7 L613.1,140.7 L616.1,140.6 L619.1,140.6 L622.1,140.6 L625.2,140.5 L628.2,140.5 L631.2,140.5 L634.2,140.4 L637.2,140.4 L640.2,140.3 L643.2,140.3 L646.2,140.3 L649.2,140.2 L652.2,140.2 L655.2,140.2 L658.2,140.1 L661.2,140.1 L664.2,140.0 L667.2,140.0 L670.2,140.0 L673.3,139.9 L676.3,139.9 L679.3,139.9 L682.3,139.8 L685.3,139.8 L688.3,139.7 L691.3,139.7 L694.3,139.7 L697.3,139.6 L700.3,139.6 L703.3,139.6 L706.3,139.5 L709.3,139.5 L712.3,139.4 L715.3,139.4 L718.3,139.3 L721.4,139.3 L724.4,139.2 L727.4,139.2 L730.4,139.1 L733.4,139.0 L736.4,139.0 L739.4,138.9 L742.4,138.9 L745.4,138.8 L748.4,138.8 L751.4,138.7 L754.4,138.6 L757.4,138.6 L760.4,138.5 L763.4,138.5 L766.4,138.5 L769.5,138.4 L772.5,138.4 L775.5,138.4 L778.5,138.3 L781.5,138.3 L784.5,138.3 L787.5,138.3 L790.5,138.3 L793.5,138.3 L796.5,138.3 L799.5,138.4 L802.5,138.4 L805.5,138.5 L808.5,138.5 L811.5,138.6 L814.5,138.7 L817.6,138.8 L820.6,138.9 L823.6,139.0 L826.6,139.1 L829.6,139.2 L832.6,139.3 L835.6,139.5 L838.6,139.6 L841.6,139.7 L844.6,139.9 L847.6,140.0 L850.6,140.1 L853.6,140.3 L856.6,140.4 L859.6,140.6 L862.6,140.8 L865.6,140.9 L868.6,141.2 L871.6,141.4 L874.6,141.6 L877.6,141.8 L880.6,142.1 L883.6,142.4 L886.6,142.6 L889.6,142.9 L892.6,143.2 L895.6,143.5 L898.6,143.8 L901.6,144.1 L904.5,144.4 L907.5,144.7 L910.5,145.0 L913.5,145.4 L916.5,145.8 L919.5,146.2 L922.4,146.6 L925.4,147.1 L928.4,147.5 L931.4,148.0 L934.3,148.5 L937.3,149.0 L940.3,149.6 L943.2,150.2 L946.1,150.9 L949.0,151.6 L951.9,152.4 L954.8,153.2 L957.7,154.2 L960.5,155.2 L963.3,156.3 L966.1,157.5 L968.8,158.7 L971.5,160.0 L974.2,161.5 L976.7,163.1 L979.3,164.7 L981.9,166.3 L984.4,168.0 L986.9,169.8 L989.4,171.6 L991.7,173.5 L994.0,175.4 L996.2,177.5 L998.3,179.5 L1000.2,181.7 L1002.0,184.0 L1003.8,186.5 L1005.4,189.0 L1007.1,191.6 L1008.6,194.2 L1010.1,196.9 L1011.6,199.5 L1013.1,202.1 L1014.5,204.8 L1015.8,207.4 L1017.1,210.2 L1018.4,212.9 L1019.7,215.6 L1021.0,218.3 L1022.3,221.0 L1023.7,223.7 L1025.2,226.4 L1026.6,229.1 L1028.1,231.7 L1029.4,234.4 L1030.6,237.2 L1031.5,240.0 L1032.2,242.8 L1032.9,245.7 L1033.4,248.7 L1033.9,251.6 L1034.4,254.6 L1034.9,257.6 L1035.4,260.6 L1035.9,263.6 L1036.5,266.6 L1037.1,269.5 L1037.7,272.5 L1038.3,275.4 L1038.9,278.3 L1039.5,281.3 L1040.2,284.2 L1040.8,287.2 L1041.5,290.1 L1042.2,293.0 L1043.0,295.9 L1043.7,298.8 L1044.5,301.7 L1045.3,304.6 L1046.1,307.5 L1047.0,310.4 L1047.8,313.3 L1048.7,316.2 L1049.5,319.0 L1050.5,321.9 L1051.4,324.8 L1052.4,327.6 L1053.3,330.5 L1054.3,333.3 L1055.2,336.2 L1056.2,339.0 L1057.1,341.9 L1058.0,344.8 L1058.8,347.6 L1059.7,350.5 L1060.6,353.4 L1061.4,356.3 L1062.3,359.2 L1063.3,362.0 L1064.2,364.9 L1065.3,367.7 L1066.4,370.5 L1067.5,373.3 L1068.6,376.0 L1069.8,378.8 L1070.9,381.6 L1072.1,384.4 L1073.2,387.2 L1074.3,390.0 L1075.4,392.8 L1076.5,395.6 L1077.6,398.4 L1078.8,401.1 L1079.9,403.9 L1081.0,406.7 L1082.1,409.5 L1083.2,412.3 L1084.3,415.1 L1085.5,417.9 L1086.6,420.7 L1087.7,423.5 L1088.8,426.3 L1089.9,429.1 L1091.0,431.8 L1092.2,434.6 L1093.3,437.4 L1094.4,440.2 L1095.4,443.0 L1096.5,445.8 L1097.6,448.7 L1098.6,451.5 L1099.7,454.3 L1100.7,457.1 L1101.8,459.9 L1102.8,462.8 L1103.8,465.6 L1104.8,468.4 L1105.9,471.2 L1106.9,474.1 L1108.0,476.9 L1109.1,479.7 L1110.2,482.5 L1111.3,485.3 L1112.4,488.0 L1113.6,490.8 L1114.8,493.6 L1115.9,496.4 L1117.1,499.1 L1118.3,501.9 L1119.5,504.6 L1120.7,507.4 L1121.9,510.2 L1123.0,512.9 L1124.2,515.7 L1125.4,518.5 L1126.5,521.3 L1127.7,524.0 L1128.8,526.8 L1129.9,529.6 L1131.0,532.4 L1132.1,535.2 L1133.2,538.0 L1134.3,540.8 L1135.4,543.6 L1136.5,546.4 L1137.6,549.2 L1138.7,552.0 L1139.9,554.8 L1141.0,557.6 L1142.1,560.4 L1143.3,563.1 L1144.4,565.9 L1145.6,568.7 L1146.8,571.4 L1148.0,574.2 L1149.3,576.9 L1150.5,579.6 L1151.8,582.4 L1153.1,585.1 L1154.3,587.8 L1155.6,590.5 L1156.9,593.3 L1158.2,596.0 L1159.4,598.7 L1160.7,601.4 L1161.9,604.2 L1163.2,606.9 L1164.5,609.6 L1165.7,612.4 L1167.0,615.1 L1168.3,617.8 L1169.6,620.5 L1170.8,623.3 L1172.1,626.0 L1173.4,628.7 L1174.7,631.4 L1176.0,634.1 L1177.3,636.8 L1178.6,639.5 L1180.0,642.2 L1181.3,644.9 L1182.6,647.6 L1183.8,650.4 L1185.1,653.1 L1186.4,655.8 L1187.7,658.5 L1188.9,661.3 L1190.2,664.0 L1191.4,666.7 L1192.7,669.5 L1193.9,672.2 L1195.1,674.9 L1196.4,677.7 L1197.6,680.4 L1198.8,683.2 L1200.1,685.9 L1201.3,688.7 L1202.6,691.4 L1203.8,694.1 L1205.0,696.9 L1206.3,699.6 L1207.6,702.3 L1208.8,705.0 L1210.1,707.8 L1211.4,710.5 L1212.6,713.2 L1213.9,716.0 L1215.2,718.7 L1216.4,721.4 L1217.7,724.1 L1219.0,726.9 L1220.3,729.6 L1221.5,732.3 L1222.8,735.0 L1224.1,737.7 L1225.5,740.4 L1226.8,743.1 L1228.1,745.8 L1229.5,748.5 L1230.8,751.2 L1232.2,753.9 L1233.6,756.5 L1235.0,759.2 L1236.4,761.8 L1237.8,764.5 L1239.2,767.1 L1240.7,769.8 L1242.1,772.4 L1243.5,775.1 L1245.0,777.7 L1246.4,780.4 L1247.8,783.0 L1249.2,785.7 L1250.7,788.3 L1252.1,790.9 L1253.5,793.6 L1255.0,796.2 L1256.4,798.9 L1257.8,801.5 L1259.3,804.2 L1260.7,806.8 L1262.1,809.4 L1263.6,812.1 L1264.9,814.8 L1266.3,817.5 L1267.6,820.2 L1269.1,822.8 L1270.7,825.3 L1272.5,828.0 L1274.6,830.0 L1277.3,830.9 L1280.4,831.4 L1283.4,831.4 L1286.4,831.4 L1289.3,831.4 L1292.3,831.4 L1295.3,831.4 L1298.3,831.4 L1301.2,831.4 L1304.2,831.4 L1307.2,831.4 L1310.2,831.4 L1313.2,831.4 L1316.2,831.4 L1319.2,831.4 L1322.2,831.4 L1325.2,831.4 L1328.2,831.4 L1331.2,831.4 L1334.2,831.4 L1337.2,831.4 L1340.2,831.4 L1343.2,831.4 L1346.3,831.4 L1349.3,831.4 L1352.3,831.4 L1355.4,831.4 L1358.4,831.4 L1361.4,831.4 L1364.5,831.4 L1367.5,831.4 L1370.6,831.4" stroke="#A5A5A5" stroke-width="13.1"/>
</g>
<g fill="#000" stroke="none">
<rect x="284" y="65.0" width="12" height="851.0"/>
<rect x="270" y="889.1" width="1221" height="12.7"/>
<rect x="270" y="738.50" width="16" height="13"/>
<rect x="270" y="587.60" width="16" height="13"/>
<rect x="270" y="436.70" width="16" height="13"/>
<rect x="270" y="285.80" width="16" height="13"/>
<rect x="270" y="135" width="16" height="12"/>
<rect x="524.10" y="895.5" width="12.1" height="20.5"/>
<rect x="764.20" y="895.5" width="12.1" height="20.5"/>
<rect x="1004.30" y="895.5" width="12.1" height="20.5"/>
<rect x="1244.40" y="895.5" width="12.1" height="20.5"/>
<rect x="1483.9" y="895.5" width="13.1" height="20.5"/>
</g>
<g font-family='"Liberation Sans", "DejaVu Sans", sans-serif' font-weight="700" font-size="63px" fill="#000" style="font-kerning:none">
<text transform="translate(235.4,916.1) scale(1,1.035)" text-anchor="end">0</text>
<text transform="translate(235.4,765.2) scale(1,1.035)" text-anchor="end">20</text>
<text transform="translate(235.4,614.3) scale(1,1.035)" text-anchor="end">40</text>
<text transform="translate(235.4,463.4) scale(1,1.035)" text-anchor="end">60</text>
<text transform="translate(235.4,312.5) scale(1,1.035)" text-anchor="end">80</text>
<text transform="translate(235.4,161.6) scale(1,1.035)" text-anchor="end">100</text>
<text transform="translate(290.2,992.6) scale(1,1.035)" text-anchor="middle">0</text>
<text transform="translate(530.3,992.6) scale(1,1.035)" text-anchor="middle">200</text>
<text transform="translate(770.4,992.6) scale(1,1.035)" text-anchor="middle">400</text>
<text transform="translate(1010.5,992.6) scale(1,1.035)" text-anchor="middle">600</text>
<text transform="translate(1250.6,992.6) scale(1,1.035)" text-anchor="middle">800</text>
<text transform="translate(1490.7,992.6) scale(1,1.035)" text-anchor="middle">1000</text>
</g>
<g font-family='"Liberation Sans", "DejaVu Sans", sans-serif' font-weight="700" font-size="66.8px" fill="#000" style="font-kerning:none">
<text transform="translate(945,1105.7) scale(1,1.015)" text-anchor="middle">Temperature (°C)</text>
<text transform="translate(98.5,522.2) rotate(-90) scale(1,1.015)" text-anchor="middle">Weight (%)</text>
</g>
<g stroke-linecap="round" fill="none">
<line x1="1474" y1="115.0" x2="1590.5" y2="115.0" stroke="#000000" stroke-width="14.0"/>
<line x1="1474" y1="210.1" x2="1590.5" y2="210.1" stroke="#ED7D31" stroke-width="14.0"/>
<line x1="1474" y1="306.4" x2="1590.5" y2="306.4" stroke="#5B9BD5" stroke-width="12.9"/>
<line x1="1474" y1="402.3" x2="1590.5" y2="402.3" stroke="#A5A5A5" stroke-width="12.7"/>
</g>
<g stroke="#000" stroke-width="6.5" stroke-linejoin="miter">
<ellipse cx="1527.95" cy="113.5" rx="24.1" ry="25.5" fill="#000" stroke="none"/>
<ellipse cx="1527.95" cy="113.5" rx="17.95" ry="18.5" fill="#fff" stroke="none"/>
<path d="M1532.3,180.80 L1561.30,209.8 L1532.3,238.80 L1503.30,209.8 Z" fill="#ED7D31" stroke-width="7.5"/>
<rect x="1513.60" y="282.50" width="43.00" height="43.00" fill="#5B9BD5" stroke-width="7"/>
<path d="M1532.4,371.80 L1553.37,414.20 L1511.43,414.20 Z" fill="#A5A5A5" stroke-width="7"/>
</g>
<g font-family='"Liberation Sans", "DejaVu Sans", sans-serif' font-weight="700" font-size="55px" fill="#000" style="font-kerning:none">
<text transform="translate(1604,131.5) scale(1,1.04)">PE</text>
<text transform="translate(1604,227.9) scale(1,1.04)">PE-Fe</text>
<text transform="translate(1604,323.6) scale(1,1.04)">PE-Co</text>
<text transform="translate(1604,419.6) scale(1,1.04)">PE-Ni</text>
</g>
<defs><filter id="soft" x="-5%" y="-50%" width="110%" height="200%"><feGaussianBlur stdDeviation="0.9"/></filter></defs>
<g stroke-linecap="butt" fill="none" filter="url(#soft)">
<line x1="1554.5" y1="635.2" x2="1756" y2="632.4" stroke="#5B9BD5" stroke-width="13.6"/>
<line x1="1554.5" y1="686.3" x2="1759" y2="686" stroke="#BFBFBF" stroke-width="14"/>
<line x1="1554.5" y1="764.2" x2="1757" y2="760.6" stroke="#ED7D31" stroke-width="16"/>
<line x1="1554.5" y1="823.3" x2="1759" y2="824.6" stroke="#000" stroke-width="17.6"/>
</g>
<path d="M1554,846 V571 H1790" fill="none" stroke="#f2f2f2" stroke-width="1"/>
<rect x="1745.5" y="826" width="14" height="9.4" fill="#000" filter="url(#soft)"/>
<rect x="1682" y="604.1" width="49" height="50" fill="#000"/>
<rect x="1688" y="611" width="37.2" height="36.2" fill="#5B9BD5"/>
<g stroke="#000" stroke-linejoin="miter">
<path d="M1663.5,661.96 L1689.09,712.40 L1637.91,712.40 Z" fill="#A5A5A5" stroke-width="7.2"/>
<path d="M1636.2,735.20 L1665.10,764.1 L1636.2,793.00 L1607.30,764.1 Z" fill="#ED7D31" stroke-width="7.5"/>
<ellipse cx="1598.05" cy="822" rx="28.1" ry="29.25" fill="#000" stroke="none"/>
<ellipse cx="1598.05" cy="822" rx="22.25" ry="22.5" fill="#fff" stroke="none"/>
</g>
<g stroke="#000" fill="none" stroke-linecap="butt" stroke-linejoin="round">
<path d="M1320.20,835.00 A44.2 85.6 0 0 1 1364.40,749.40 A44.2 85.6 0 0 1 1408.60,835.00 A44.2 85.6 0 0 1 1364.40,920.60 A44.2 85.6 0 0 1 1320.20,835.00" stroke-width="6.9" stroke-dasharray="24.00 16.32"/>
<path d="M1527.90,734.90 A129.3 186.6 0 0 1 1657.20,548.30 A129.3 186.6 0 0 1 1786.50,734.90 A129.3 186.6 0 0 1 1657.20,921.50 A129.3 186.6 0 0 1 1527.90,734.90" stroke-width="6.8" stroke-dasharray="24.30 16.38"/>
<line x1="1364.6" y1="749.6" x2="1550.4" y2="606" stroke-width="4.8" stroke-dasharray="18.3 12.6"/>
<line x1="1363.1" y1="921.5" x2="1656.5" y2="921.5" stroke-width="4.8" stroke-dasharray="18.1 12.4"/>
</g>
</svg>
</body>
</html>
